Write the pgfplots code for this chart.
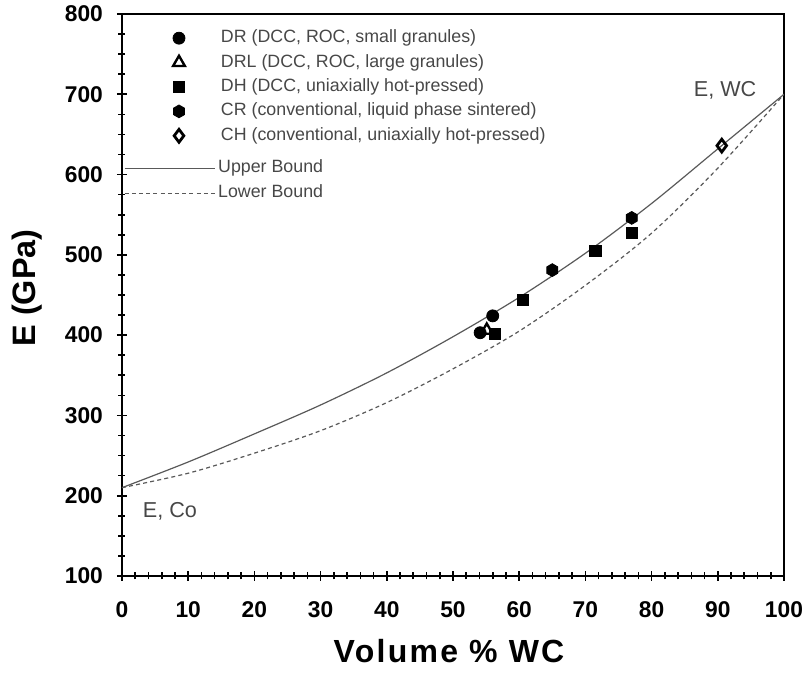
\documentclass[border=0pt]{standalone}
\usepackage{fontspec}
\setmainfont{Liberation Sans}
\usepackage{pgfplots}
\pgfplotsset{compat=1.18}

\definecolor{curvegray}{gray}{0.35}
\definecolor{textgray}{gray}{0.28}

% filled hexagon mark (pointy top)
\pgfdeclareplotmark{hex*}{%
  \pgfpathmoveto{\pgfqpointpolar{90}{\pgfplotmarksize}}%
  \pgfpathlineto{\pgfqpointpolar{150}{\pgfplotmarksize}}%
  \pgfpathlineto{\pgfqpointpolar{210}{\pgfplotmarksize}}%
  \pgfpathlineto{\pgfqpointpolar{270}{\pgfplotmarksize}}%
  \pgfpathlineto{\pgfqpointpolar{330}{\pgfplotmarksize}}%
  \pgfpathlineto{\pgfqpointpolar{30}{\pgfplotmarksize}}%
  \pgfpathclose
  \pgfusepathqfillstroke}

\pgfplotsset{
  mklegend/.style={legend image code/.code={%
      \draw[##1] plot coordinates {(26.5pt,0pt)};}},
  lnlegend/.style={legend image code/.code={%
      \draw[##1] (0pt,0pt) -- (45pt,0pt);}},
  base/.style={
    at={(0,0)}, anchor=south west,
    scale only axis, width=331pt, height=281pt,
    xmin=0, xmax=100, ymin=100, ymax=800,
  },
  leg/.style={
    legend cell align=left,
    legend style={draw=none, fill=none, inner sep=0pt, outer sep=0pt,
      text=textgray,
      font=\fontsize{8.9}{10}\selectfont,
      nodes={inner sep=0pt, text height=6.4pt, text depth=1.8pt}},
  },
}

\begin{document}
\begin{tikzpicture}
\begin{axis}[
  base, leg,
  xtick={0,10,...,100}, ytick={100,200,...,800},
  minor x tick num=4, minor y tick num=3,
  tick pos=left, tick align=center,
  major tick length=5pt, minor tick length=3.5pt,
  tick style={black, line width=0.8pt},
  axis line style={line width=1.2pt},
  /pgf/number format/assume math mode=true,
  ticklabel style={font=\bfseries\fontsize{11.4}{13}\selectfont},
  xticklabel style={yshift=-7pt},
  yticklabel style={xshift=-3.5pt},
  xlabel={Volume \% WC},
  xlabel style={font=\bfseries\fontsize{16}{18}\selectfont\addfontfeatures{LetterSpace=7},
    at={(axis description cs:0.494,-0.1335)}, anchor=center},
  ylabel={E (GPa)},
  ylabel style={font=\bfseries\fontsize{16.2}{18}\selectfont,
    at={(axis description cs:-0.1435,0.5125)}, anchor=center},
  legend style={at={(axis description cs:0,1)}, anchor=north west,
    xshift=25.5pt, yshift=-8pt, column sep=18pt, row sep=4.0pt},
]
% bounds
\addplot[forget plot, curvegray, line width=0.6pt, smooth] coordinates {
  (0,210)(10,242)(20,277)(30,313)(40,353)(50,398)(60,447)(70,502)(80,564)(90,632)(100,700)};
\addplot[forget plot, curvegray, line width=0.6pt, dash pattern=on 2pt off 1.6pt, smooth] coordinates {
  (0,210)(10,228)(20,253)(30,281)(40,316)(50,358)(60,405)(70,462)(80,527)(90,608)(100,700)};

% measured points
\addplot[mklegend, only marks, black, mark=*, mark size=3pt] coordinates {(54.1,403)(56.0,424)};
\addlegendentry{DR (DCC, ROC, small granules)}
\addplot[mklegend, only marks, black, mark=triangle, mark size=3.4pt, mark options={line width=1.2pt}] coordinates {(55.1,406)};
\addlegendentry{DRL (DCC, ROC, large granules)}
\addplot[mklegend, only marks, black, mark=square*, mark size=2.8pt] coordinates {(56.3,402)(60.6,444)(71.5,505)(77.0,527)};
\addlegendentry{DH (DCC, uniaxially hot-pressed)}
\addplot[mklegend, only marks, black, mark=hex*, mark size=3.2pt] coordinates {(65.0,481)(77.0,546)};
\addlegendentry{CR (conventional, liquid phase sintered)}
\addplot[mklegend, only marks, black, mark=diamond, mark size=3.2pt, mark options={line width=1.4pt}] coordinates {(90.6,636)};
\addlegendentry{CH (conventional, uniaxially hot-pressed)}

\node[text=textgray, font=\fontsize{10.8}{12}\selectfont] at (axis cs:91.1,705) {E, WC};
\node[text=textgray, font=\fontsize{10.8}{12}\selectfont] at (axis cs:7.25,180) {E, Co};
\end{axis}

% second legend for the bound curves
\begin{axis}[
  base, leg, hide axis,
  legend style={at={(axis description cs:0,1)}, anchor=north west,
    xshift=1pt, yshift=-73pt, column sep=1.5pt, row sep=4.4pt},
]
\addlegendimage{lnlegend, curvegray, line width=0.6pt}
\addlegendentry{Upper Bound}
\addlegendimage{lnlegend, curvegray, line width=0.6pt, dash pattern=on 2pt off 1.6pt}
\addlegendentry{Lower Bound}
\end{axis}

\pgfresetboundingbox
\useasboundingbox (-61pt,-48.5pt) rectangle (344.5pt,288pt);
\end{tikzpicture}
\end{document}
